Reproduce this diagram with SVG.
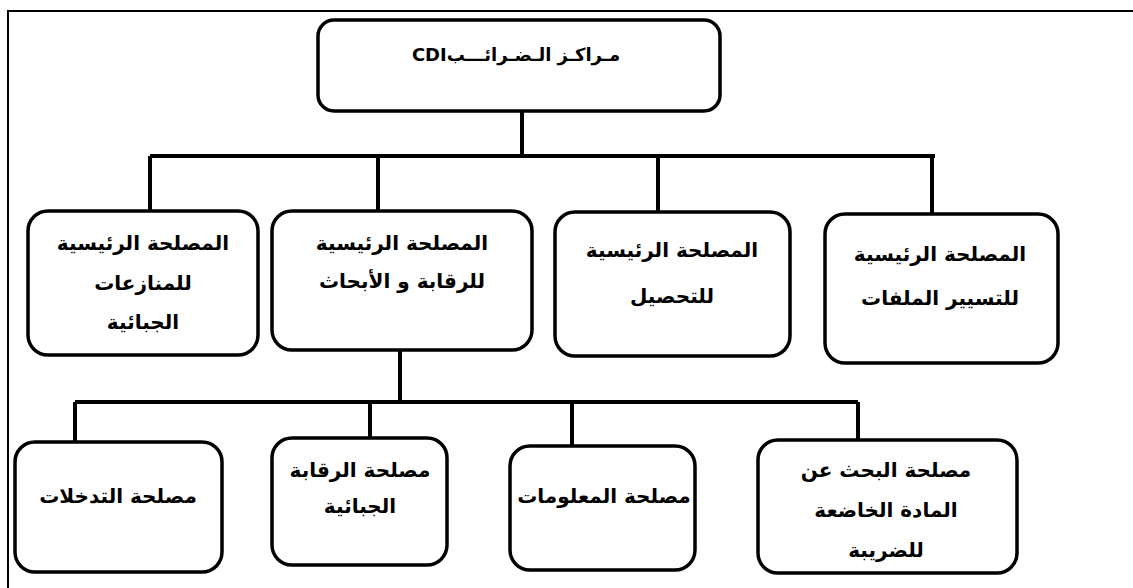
<svg xmlns="http://www.w3.org/2000/svg" width="1133" height="588" viewBox="0 0 1133 588">
<style>
.box{fill:#fff;stroke:#000;stroke-width:3.5}
.ln{fill:none;stroke:#000;stroke-width:4}
.fr{fill:none;stroke:#000;stroke-width:2}
text{font-family:"DejaVu Sans","Noto Sans",sans-serif;font-weight:bold;font-size:20px;fill:#000;text-anchor:middle;direction:rtl}
.t{font-size:18px}
</style>
<rect x="0" y="0" width="1133" height="588" fill="#fff"/>
<path class="fr" d="M8,588 V11 H1133"/>
<g id="connectors">
<path class="ln" d="M522,111 V156 M150,156 H935 M150,156 V211 M378,156 V211 M658,156 V212 M932,156 V214"/>
<path class="ln" d="M400,350 V402 M75,402 H858 M75,402 V441 M370,402 V438 M572,402 V446 M858,402 V440"/>
</g>
<g id="root">
<rect class="box" x="318" y="20" width="402" height="91" rx="16"/>
<text class="t" x="516" y="61">مـراكـز الـضـرائـــبCDI</text>
</g>
<g id="n1">
<rect class="box" x="28" y="211" width="230" height="144" rx="20"/>
<text x="143" y="250">المصلحة الرئيسية</text>
<text x="143" y="290">للمنازعات</text>
<text x="143" y="329">الجبائية</text>
</g>
<g id="n2">
<rect class="box" x="272" y="211" width="260" height="139" rx="20"/>
<text x="402" y="250">المصلحة الرئيسية</text>
<text x="402" y="288">للرقابة و الأبحاث</text>
</g>
<g id="n3">
<rect class="box" x="555" y="212" width="235" height="144" rx="20"/>
<text x="672" y="257">المصلحة الرئيسية</text>
<text x="672" y="303">للتحصيل</text>
</g>
<g id="n4">
<rect class="box" x="825" y="214" width="233" height="149" rx="20"/>
<text x="940" y="261">المصلحة الرئيسية</text>
<text x="940" y="305">للتسيير الملفات</text>
</g>
<g id="c1">
<rect class="box" x="15" y="442" width="207" height="130" rx="20"/>
<text x="118" y="503">مصلحة التدخلات</text>
</g>
<g id="c2">
<rect class="box" x="272" y="438" width="175" height="127" rx="20"/>
<text x="360" y="477">مصلحة الرقابة</text>
<text x="360" y="513">الجبائية</text>
</g>
<g id="c3">
<rect class="box" x="510" y="446" width="185" height="124" rx="20"/>
<text x="604" y="503">مصلحة المعلومات</text>
</g>
<g id="c4">
<rect class="box" x="758" y="440" width="259" height="133" rx="20"/>
<text x="886" y="477">مصلحة البحث عن</text>
<text x="886" y="517">المادة الخاضعة</text>
<text x="886" y="557">للضريبة</text>
</g>
</svg>
